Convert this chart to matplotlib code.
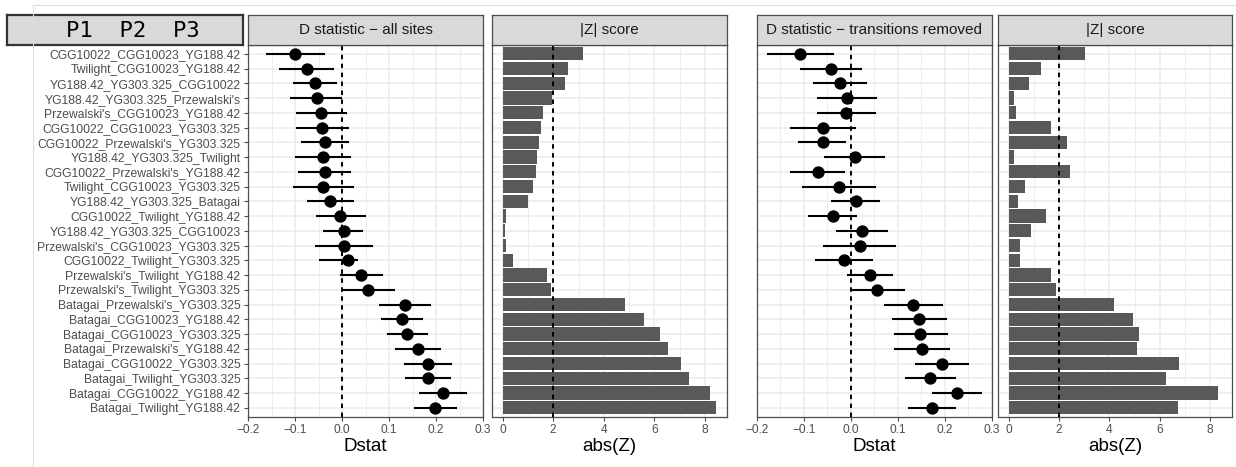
import matplotlib
matplotlib.use("Agg")
import matplotlib.pyplot as plt
import numpy as np
from matplotlib.lines import Line2D

plt.rcParams['font.family'] = ['Liberation Sans', 'DejaVu Sans']

# ---------------- data ----------------
tests = [
    "CGG10022_CGG10023_YG188.42",
    "Twilight_CGG10023_YG188.42",
    "YG188.42_YG303.325_CGG10022",
    "YG188.42_YG303.325_Przewalski's",
    "Przewalski's_CGG10023_YG188.42",
    "CGG10022_CGG10023_YG303.325",
    "CGG10022_Przewalski's_YG303.325",
    "YG188.42_YG303.325_Twilight",
    "CGG10022_Przewalski's_YG188.42",
    "Twilight_CGG10023_YG303.325",
    "YG188.42_YG303.325_Batagai",
    "CGG10022_Twilight_YG188.42",
    "YG188.42_YG303.325_CGG10023",
    "Przewalski's_CGG10023_YG303.325",
    "CGG10022_Twilight_YG303.325",
    "Przewalski's_Twilight_YG188.42",
    "Przewalski's_Twilight_YG303.325",
    "Batagai_Przewalski's_YG303.325",
    "Batagai_CGG10023_YG188.42",
    "Batagai_CGG10023_YG303.325",
    "Batagai_Przewalski's_YG188.42",
    "Batagai_CGG10022_YG303.325",
    "Batagai_Twilight_YG303.325",
    "Batagai_CGG10022_YG188.42",
    "Batagai_Twilight_YG188.42",
]

# D statistic - all sites
d_all = [-0.100, -0.075, -0.058, -0.054, -0.044, -0.043, -0.037, -0.041, -0.037, -0.040,
         -0.025, -0.004, 0.004, 0.005, 0.013, 0.041, 0.055, 0.134, 0.128, 0.139,
         0.161, 0.183, 0.182, 0.214, 0.198]
d_all_lo = [-0.162, -0.134, -0.104, -0.110, -0.097, -0.097, -0.087, -0.100, -0.094, -0.104,
            -0.074, -0.056, -0.041, -0.058, -0.048, -0.005, 0.000, 0.079, 0.082, 0.095,
            0.112, 0.131, 0.133, 0.163, 0.153]
d_all_hi = [-0.037, -0.018, -0.011, 0.000, 0.011, 0.014, 0.014, 0.019, 0.020, 0.026,
            0.025, 0.050, 0.045, 0.066, 0.034, 0.087, 0.112, 0.190, 0.172, 0.183,
            0.210, 0.235, 0.231, 0.267, 0.244]
z_all = [3.16, 2.57, 2.47, 1.96, 1.58, 1.50, 1.45, 1.36, 1.32, 1.18,
         0.99, 0.12, 0.08, 0.12, 0.39, 1.75, 1.93, 4.82, 5.58, 6.22,
         6.54, 7.04, 7.37, 8.21, 8.45]

# D statistic - transitions removed
d_tv = [-0.107, -0.041, -0.022, -0.008, -0.009, -0.059, -0.060, 0.009, -0.070, -0.024,
        0.011, -0.038, 0.025, 0.019, -0.014, 0.042, 0.056, 0.133, 0.146, 0.148,
        0.151, 0.194, 0.169, 0.226, 0.173]
d_tv_lo = [-0.178, -0.107, -0.080, -0.071, -0.071, -0.130, -0.112, -0.056, -0.130, -0.103,
           -0.041, -0.091, -0.031, -0.059, -0.075, -0.008, -0.002, 0.070, 0.088, 0.092,
           0.092, 0.137, 0.115, 0.172, 0.122]
d_tv_hi = [-0.036, 0.023, 0.035, 0.056, 0.054, 0.011, -0.009, 0.073, -0.012, 0.053,
           0.062, 0.014, 0.080, 0.096, 0.048, 0.091, 0.115, 0.197, 0.204, 0.207,
           0.211, 0.252, 0.223, 0.279, 0.224]
z_tv = [3.02, 1.27, 0.78, 0.22, 0.28, 1.68, 2.31, 0.22, 2.41, 0.62,
        0.38, 1.46, 0.86, 0.45, 0.44, 1.67, 1.87, 4.17, 4.95, 5.19,
        5.11, 6.77, 6.24, 8.31, 6.73]

d_ticks = [-0.2, -0.1, 0.0, 0.1, 0.2, 0.3]
z_ticks = [0, 2, 4, 6, 8]
strip_titles = ["D statistic \u2212 all sites", "|Z| score",
                "D statistic \u2212 transitions removed", "|Z| score"]
left_header = "P1  P2  P3"

# ---------------- layout ----------------
W, H = 1236, 467
fig = plt.figure(figsize=(W / 100, H / 100), dpi=100)
fig.patch.set_facecolor('white')

def fbox(x0, x1, y0, y1):
    return [x0 / W, 1 - y1 / H, (x1 - x0) / W, (y1 - y0) / H]

PT, PB = 45, 416.7
ST = 15
panel_x = [(248, 483), (492, 727), (756.7, 991.7), (998.3, 1232)]
kinds = ['d', 'z', 'd', 'z']
dsets = [(d_all, d_all_lo, d_all_hi), z_all, (d_tv, d_tv_lo, d_tv_hi), z_tv]

n = len(tests)
ypos = np.arange(n)
zmax = max(max(z_all), max(z_tv))
zlim = (-0.05 * zmax, zmax * 1.05)

GRID = '#EBEBEB'
BORDER = '#4D4D4D'
TICKC = '#4D4D4D'

def fmt_d(v):
    s = f"{v:.1f}"
    if s == "-0.0":
        s = "0.0"
    return s.replace('-', '\u2212')

for i, ((x0, x1), kind, data) in enumerate(zip(panel_x, kinds, dsets)):
    ax = fig.add_axes(fbox(x0, x1, PT, PB))
    ax.set_axisbelow(True)
    ax.set_ylim(n - 1 + 0.6, -0.6)
    ax.set_yticks(ypos)
    if kind == 'd':
        ax.set_xlim(-0.2, 0.3)
        ax.set_xticks(d_ticks)
        ax.set_xticklabels([fmt_d(v) for v in d_ticks])
        ax.set_xticks(np.arange(-0.15, 0.3, 0.1), minor=True)
        d, lo, hi = data
        ax.hlines(ypos, lo, hi, color='black', lw=1.5, zorder=3)
        ax.plot(d, ypos, 'o', color='black', ms=7.9, zorder=4)
        ax.axvline(0, color='black', lw=1.4, ls=(0, (2.3, 2.3)), zorder=2.5)
        ax.set_xlabel('Dstat', fontsize=13.5, labelpad=1.5)
    else:
        ax.set_xlim(*zlim)
        ax.set_xticks(z_ticks)
        ax.set_xticklabels([str(v) for v in z_ticks])
        ax.set_xticks([1, 3, 5, 7], minor=True)
        ax.barh(ypos, data, height=0.9, color='#595959', zorder=3)
        ax.axvline(2, color='black', lw=1.4, ls=(0, (2.3, 2.3)), zorder=4)
        ax.set_xlabel('abs(Z)', fontsize=13.5, labelpad=1.5)
    ax.grid(which='major', color=GRID, lw=1.1)
    ax.grid(which='minor', axis='x', color=GRID, lw=0.6)
    ax.tick_params(axis='x', which='major', length=3, width=0.8, color=TICKC,
                   labelcolor='#4D4D4D', labelsize=8.6, pad=2.5)
    ax.tick_params(axis='x', which='minor', length=0)
    if i == 0:
        ax.set_yticklabels(tests)
        ax.tick_params(axis='y', length=3, width=0.8, color=TICKC,
                       labelcolor='#4D4D4D', labelsize=8.75, pad=2.5)
    else:
        ax.set_yticklabels([])
        ax.tick_params(axis='y', length=0)
    for sp in ax.spines.values():
        sp.set_color(BORDER)
        sp.set_linewidth(0.9)

    # strip
    sax = fig.add_axes(fbox(x0, x1, ST, PT))
    sax.set_facecolor('#D9D9D9')
    sax.set_xticks([])
    sax.set_yticks([])
    for sp in sax.spines.values():
        sp.set_color(BORDER)
        sp.set_linewidth(0.9)
    sax.text(0.5, 0.5, strip_titles[i], ha='center', va='center',
             fontsize=11, color='#1A1A1A', transform=sax.transAxes)

# left header box
hax = fig.add_axes(fbox(7, 243, ST, PT))
hax.set_facecolor('#D9D9D9')
hax.set_xticks([])
hax.set_yticks([])
for sp in hax.spines.values():
    sp.set_color('#333333')
    sp.set_linewidth(1.6)
hax.text(0.535, 0.47, left_header, ha='center', va='center', fontsize=16,
         family='DejaVu Sans Mono', color='black', transform=hax.transAxes)

# faint frame lines
fig.add_artist(Line2D([32.7 / W, 1.0], [1 - 5 / H, 1 - 5 / H], color='#DDDDDD', lw=0.8))
fig.add_artist(Line2D([32.7 / W, 32.7 / W], [0.0, 1 - 5 / H], color='#DDDDDD', lw=0.8))

fig.savefig('out.png', dpi=100)
